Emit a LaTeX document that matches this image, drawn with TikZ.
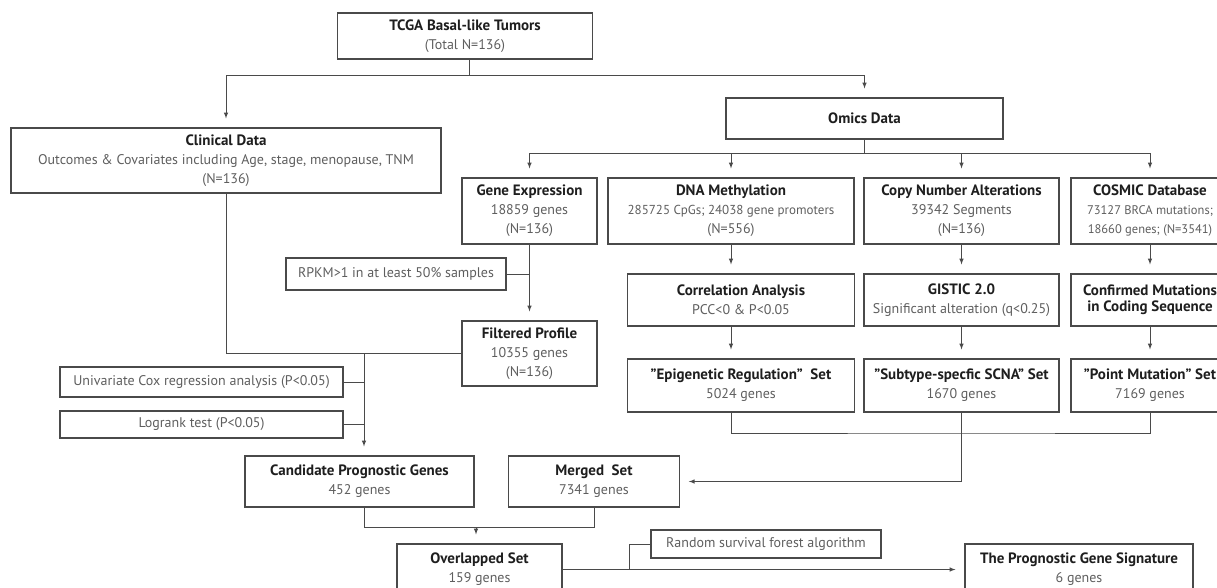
\documentclass[tikz,border=0pt]{standalone}
\usepackage{fontspec}
\setmainfont{PT Sans}
\usetikzlibrary{arrows}
\definecolor{linecol}{HTML}{4A4A4A}
\definecolor{subcol}{HTML}{5E5E5E}
\definecolor{headcol}{HTML}{1E1E1E}
\newcommand{\boxhead}[1]{\textcolor{headcol}{\fontsize{15}{19}\selectfont\bfseries #1}}

\begin{document}
\begin{tikzpicture}[x=1pt,y=-1pt,>=latex,
  box/.style={draw=linecol,line width=1.1pt,align=center,inner sep=0pt,
    text=subcol,font=\fontsize{14}{19}\selectfont},
  link/.style={draw=linecol,line width=1pt},
  arr/.style={link,->,shorten >=9pt}]
\useasboundingbox (0,0) rectangle (1217,587);
\clip (0,0) rectangle (1217,587);
% The sources
\node[box,minimum width=255pt,minimum height=46pt] (tcga) at (465,36)
  {\boxhead{TCGA Basal-like Tumors}\\(Total N=136)};
\node[box,minimum width=430pt,minimum height=65pt] (clin) at (226,160.5)
  {\boxhead{Clinical Data}\\Outcomes \& Covariates including Age, stage, menopause, TNM\\(N=136)};
\node[box,minimum width=277pt,minimum height=41pt] (omics) at (864.5,118.5)
  {\boxhead{Omics Data}};
% The omics layers
\node[box,minimum width=135pt,minimum height=66pt] (gene) at (529.5,211)
  {\boxhead{Gene Expression}\\18859 genes\\(N=136)};
\node[box,minimum width=246pt,minimum height=66pt] (dna) at (731,211)
  {\boxhead{DNA Methylation}\\{\fontsize{13}{19}\selectfont 285725 CpGs; 24038 gene promoters}\\(N=556)};
\node[box,minimum width=195pt,minimum height=66pt] (cna) at (961.5,211)
  {\boxhead{Copy Number Alterations}\\39342 Segments\\(N=136)};
\node[box,minimum width=158pt,minimum height=66pt] (cosmic) at (1150,211)
  {\boxhead{COSMIC Database}\\{\fontsize{12.5}{19}\selectfont 73127 BRCA mutations;}\\{\fontsize{12.5}{19}\selectfont 18660 genes; (N=3541)}};
% The filters
\node[box,minimum width=220pt,minimum height=32pt] (rpkm) at (396,274)
  {RPKM>1 in at least 50\% samples};
\node[box,minimum width=135pt,minimum height=65pt] (filt) at (529.5,353.5)
  {\boxhead{Filtered Profile}\\10355 genes\\(N=136)};
\node[box,minimum width=226.5pt,minimum height=52pt] (corr) at (741,300)
  {\boxhead{Correlation Analysis}\\PCC<0 \& P<0.05};
\node[box,minimum width=195pt,minimum height=52pt] (gistic) at (961.5,300)
  {\boxhead{GISTIC 2.0}\\Significant alteration (q<0.25)};
\node[box,minimum width=158pt,minimum height=52pt] (conf) at (1150,300)
  {\boxhead{Confirmed Mutations}\\[-3pt]\boxhead{in Coding Sequence}};
% The sets
\node[box,minimum width=226.5pt,minimum height=53pt] (epi) at (741,385.5)
  {\boxhead{"Epigenetic Regulation"\ \ Set}\\5024 genes};
\node[box,minimum width=195pt,minimum height=53pt] (scna) at (961.5,385.5)
  {\boxhead{"Subtype-specfic SCNA" Set}\\1670 genes};
\node[box,minimum width=158pt,minimum height=53pt] (point) at (1150,385.5)
  {\boxhead{"Point Mutation" Set}\\7169 genes};
\node[box,minimum width=283pt,minimum height=30pt] (univ) at (201.5,382)
  {Univariate Cox regression analysis (P<0.05)};
\node[box,minimum width=283pt,minimum height=27pt] (logr) at (201.5,424.5)
  {Logrank test (P<0.05)};
\node[box,minimum width=229pt,minimum height=51pt] (cand) at (359.5,481.5)
  {\boxhead{Candidate Prognostic Genes}\\452 genes};
\node[box,minimum width=170.5pt,minimum height=51pt] (merged) at (594,481.5)
  {\boxhead{Merged\ \ Set}\\7341 genes};
\node[box,minimum width=165pt,minimum height=51pt] (over) at (479.5,569.5)
  {\boxhead{Overlapped Set}\\159 genes};
\node[box,minimum width=230pt,minimum height=28pt] (rsf) at (766,544)
  {Random survival forest algorithm};
\node[box,minimum width=228pt,minimum height=51pt] (prog) at (1079,569.5)
  {\boxhead{The Prognostic Gene Signature}\\6 genes};
% The junctions
\coordinate (j1) at (469,75);
\coordinate (j2) at (864.5,153);
\coordinate (j3) at (961.5,433);
\coordinate (j4) at (364,353.5);
\coordinate (j5) at (476,527);
\coordinate (j6) at (629.5,569.5);
% The connectors
\draw[link] (tcga.south -| j1) -- (j1);
\draw[arr] (j1) -| (clin.north);
\draw[arr] (j1) -| (omics.north);
\draw[link] (omics.south) -- (j2);
\foreach \n in {gene,dna,cna,cosmic}
  \draw[arr] (j2) -| (\n.north);
\draw[arr] (gene) -- (filt);
\draw[link] (rpkm.east) -- (rpkm.east -| gene.south);
\draw[arr] (dna.south) -- (dna.south |- corr.north);
\draw[arr] (dna.south |- corr.south) -- (dna.south |- epi.north);
\draw[arr] (cna) -- (gistic);
\draw[arr] (gistic) -- (scna);
\draw[arr] (cosmic) -- (conf);
\draw[arr] (conf) -- (point);
\draw[link] (epi.south -| dna) |- (j3) -| (point.south);
\draw[arr] (scna.south) |- (merged.east);
\draw[link] (clin.south) |- (filt.west);
\draw[arr] (j4) -- (j4 |- cand.north);
\draw[link] (univ.east) -- (univ.east -| j4);
\draw[link] (logr.east) -- (logr.east -| j4);
\draw[link] (cand.south -| j4) |- (merged.south |- j5) -- (merged.south);
\draw[arr] (j5) -- (j5 |- over.north);
\draw[arr] (over.east) -- (prog.west);
\draw[link] (rsf.west) -| (j6);
\end{tikzpicture}
\end{document}
